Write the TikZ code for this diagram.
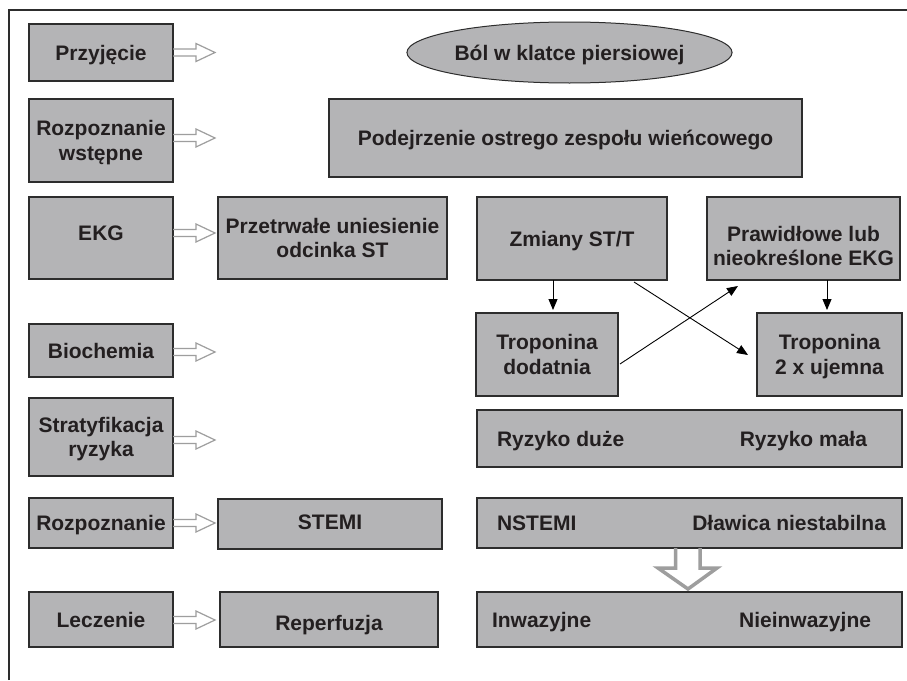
\documentclass[tikz,border=0pt]{standalone}
\usepackage{fontspec}
\setmainfont{Liberation Sans}
\usetikzlibrary{arrows.meta,shapes.geometric,shadows}
\definecolor{boxfill}{RGB}{180,180,182}
\definecolor{boxline}{RGB}{45,45,45}
\definecolor{txt}{RGB}{35,31,32}
\definecolor{holl}{RGB}{158,158,158}
\newcommand{\hollowArr}[1]{\draw[hol] (#1) ++(0,-3.5) -- ++(23,0) -- ++(0,-5.5) -- ++(19,9) -- ++(-19,9) -- ++(0,-5.5) -- ++(-23,0);}
\begin{document}
\begin{tikzpicture}[x=1pt,y=-1pt,
  box/.style={draw=boxline, line width=1.1pt, fill=boxfill, inner sep=0pt, outer sep=0pt,
    font=\bfseries\fontsize{21}{24.5}\selectfont, text=txt, align=center,
    drop shadow={shadow xshift=1.2pt, shadow yshift=-1.2pt, fill=black!70, opacity=0.8}},
  one/.style={text height=15pt, text depth=0pt},
  two/.style={text height=39.5pt, text depth=0pt},
  lbl/.style={inner sep=0pt, outer sep=0pt, font=\bfseries\fontsize{21}{24.5}\selectfont,
    text=txt, text height=15pt, text depth=0pt},
  hol/.style={draw=holl, line width=1.2pt},
  bigarr/.style={draw=holl, line width=3.5pt},
  blk/.style={draw=black, line width=0.9pt, -{Triangle[length=11pt,width=9pt]}}]
\useasboundingbox (0,0) rectangle (907,680);
\fill[white] (0,0) rectangle (907,680);
% frame
\draw[draw=boxline, line width=1.1pt] (9,680) -- (9,10) -- (907,10);
% left column
\node[box, one, minimum width=144pt, minimum height=57pt] (przy) at (101,52.5) {Przyjęcie};
\node[box, two, minimum width=144pt, minimum height=83pt] (rozw) at (101,140.5) {Rozpoznanie\\wstępne};
\node[box, one, text depth=10pt, minimum width=144pt, minimum height=82pt] (ekg) at (101,238) {EKG};
\node[box, one, minimum width=144pt, minimum height=53pt] (bio) at (101,350.5) {Biochemia};
\node[box, two, minimum width=144pt, minimum height=78pt] (strat) at (101,437) {Stratyfikacja\\ryzyka};
\node[box, one, minimum width=144pt, minimum height=50pt] (rozp) at (101,523) {Rozpoznanie};
\node[box, one, minimum width=144pt, minimum height=55pt] (lecz) at (101,619.5) {Leczenie};
% top
\node[ellipse, draw=boxline, line width=1pt, fill=boxfill, inner sep=0pt, outer sep=0pt,
  minimum width=275pt, minimum height=61pt, font=\bfseries\fontsize{21}{24.5}\selectfont,
  text=txt, text height=15pt, text depth=0pt] (bol) at (569.5,52.5) {Ból w klatce piersiowej};
\node[box, one, minimum width=473pt, minimum height=78pt] (podej) at (565.5,138) {Podejrzenie ostrego zespołu wieńcowego};
% EKG row
\node[box, two, minimum width=229pt, minimum height=82pt] (przetr) at (332.5,238) {Przetrwałe uniesienie\\odcinka ST};
\node[box, one, minimum width=190pt, minimum height=83pt] (zmiany) at (572,238.5) {Zmiany ST/T};
\node[box, two, text height=54pt, minimum width=193pt, minimum height=83pt] (praw) at (803.5,238.5) {Prawidłowe lub\\nieokreślone EKG};
% troponin
\node[box, two, minimum width=142pt, minimum height=83pt] (tropd) at (547,354.5) {Troponina\\dodatnia};
\node[box, two, minimum width=145pt, minimum height=83pt] (tropu) at (829.5,354.5) {Troponina\\2 x ujemna};
% wide boxes
\node[box, minimum width=425pt, minimum height=57pt] (ryz) at (689.5,438.5) {};
\node[box, minimum width=425pt, minimum height=50pt] (nstemi) at (689.5,523) {};
\node[box, minimum width=425pt, minimum height=55pt] (inw) at (689.5,619.5) {};
\node[lbl, anchor=west] (ryzd) at ([xshift=20pt]ryz.west) {Ryzyko duże};
\node[lbl, anchor=east] (ryzm) at ([xshift=-35pt]ryz.east) {Ryzyko mała};
\node[lbl, anchor=west] (nst) at ([xshift=20pt]nstemi.west) {NSTEMI};
\node[lbl, anchor=east] (dlaw) at ([xshift=-16pt]nstemi.east) {Dławica niestabilna};
\node[lbl, anchor=west] (inwl) at ([xshift=15pt]inw.west) {Inwazyjne};
\node[lbl, anchor=east] (ninw) at ([xshift=-31pt]inw.east) {Nieinwazyjne};
% STEMI / Reperfuzja
\node[box, one, text depth=4.6pt, minimum width=224pt, minimum height=50pt] (stemi) at (330,524) {STEMI};
\node[box, one, text height=22pt, minimum width=218pt, minimum height=55pt] (rep) at (329,619.5) {Reperfuzja};
% hollow arrows
\hollowArr{przy.east}
\hollowArr{[yshift=2.5pt]rozw.east}
\hollowArr{[yshift=5pt]ekg.east}
\hollowArr{[yshift=-1.5pt]bio.east}
\hollowArr{[yshift=-3pt]strat.east}
\hollowArr{rozp.east}
\hollowArr{[yshift=-0.5pt]lecz.east}
% big hollow arrow
\draw[bigarr] ([xshift=-14pt]nstemi.south) -- ++(0,20) -- ++(-17.5,0) -- ++(30,21) -- ++(29,-21) -- ++(-17,0) -- ++(0,-20);
% black arrows
\draw[blk] ([xshift=-19pt]zmiany.south) -- ([xshift=6pt,yshift=3pt]tropd.north);
\draw[blk] ([xshift=23.5pt]praw.south) -- ([xshift=-2.5pt,yshift=3pt]tropu.north);
\draw[blk] ([xshift=62pt,yshift=-2pt]zmiany.south) -- ([xshift=-9pt,yshift=-0.5pt]tropu.west);
\draw[blk] ([xshift=2pt,yshift=-9.5pt]tropd.east) -- ([xshift=-65.5pt,yshift=-6pt]praw.south);
\end{tikzpicture}
\end{document}
